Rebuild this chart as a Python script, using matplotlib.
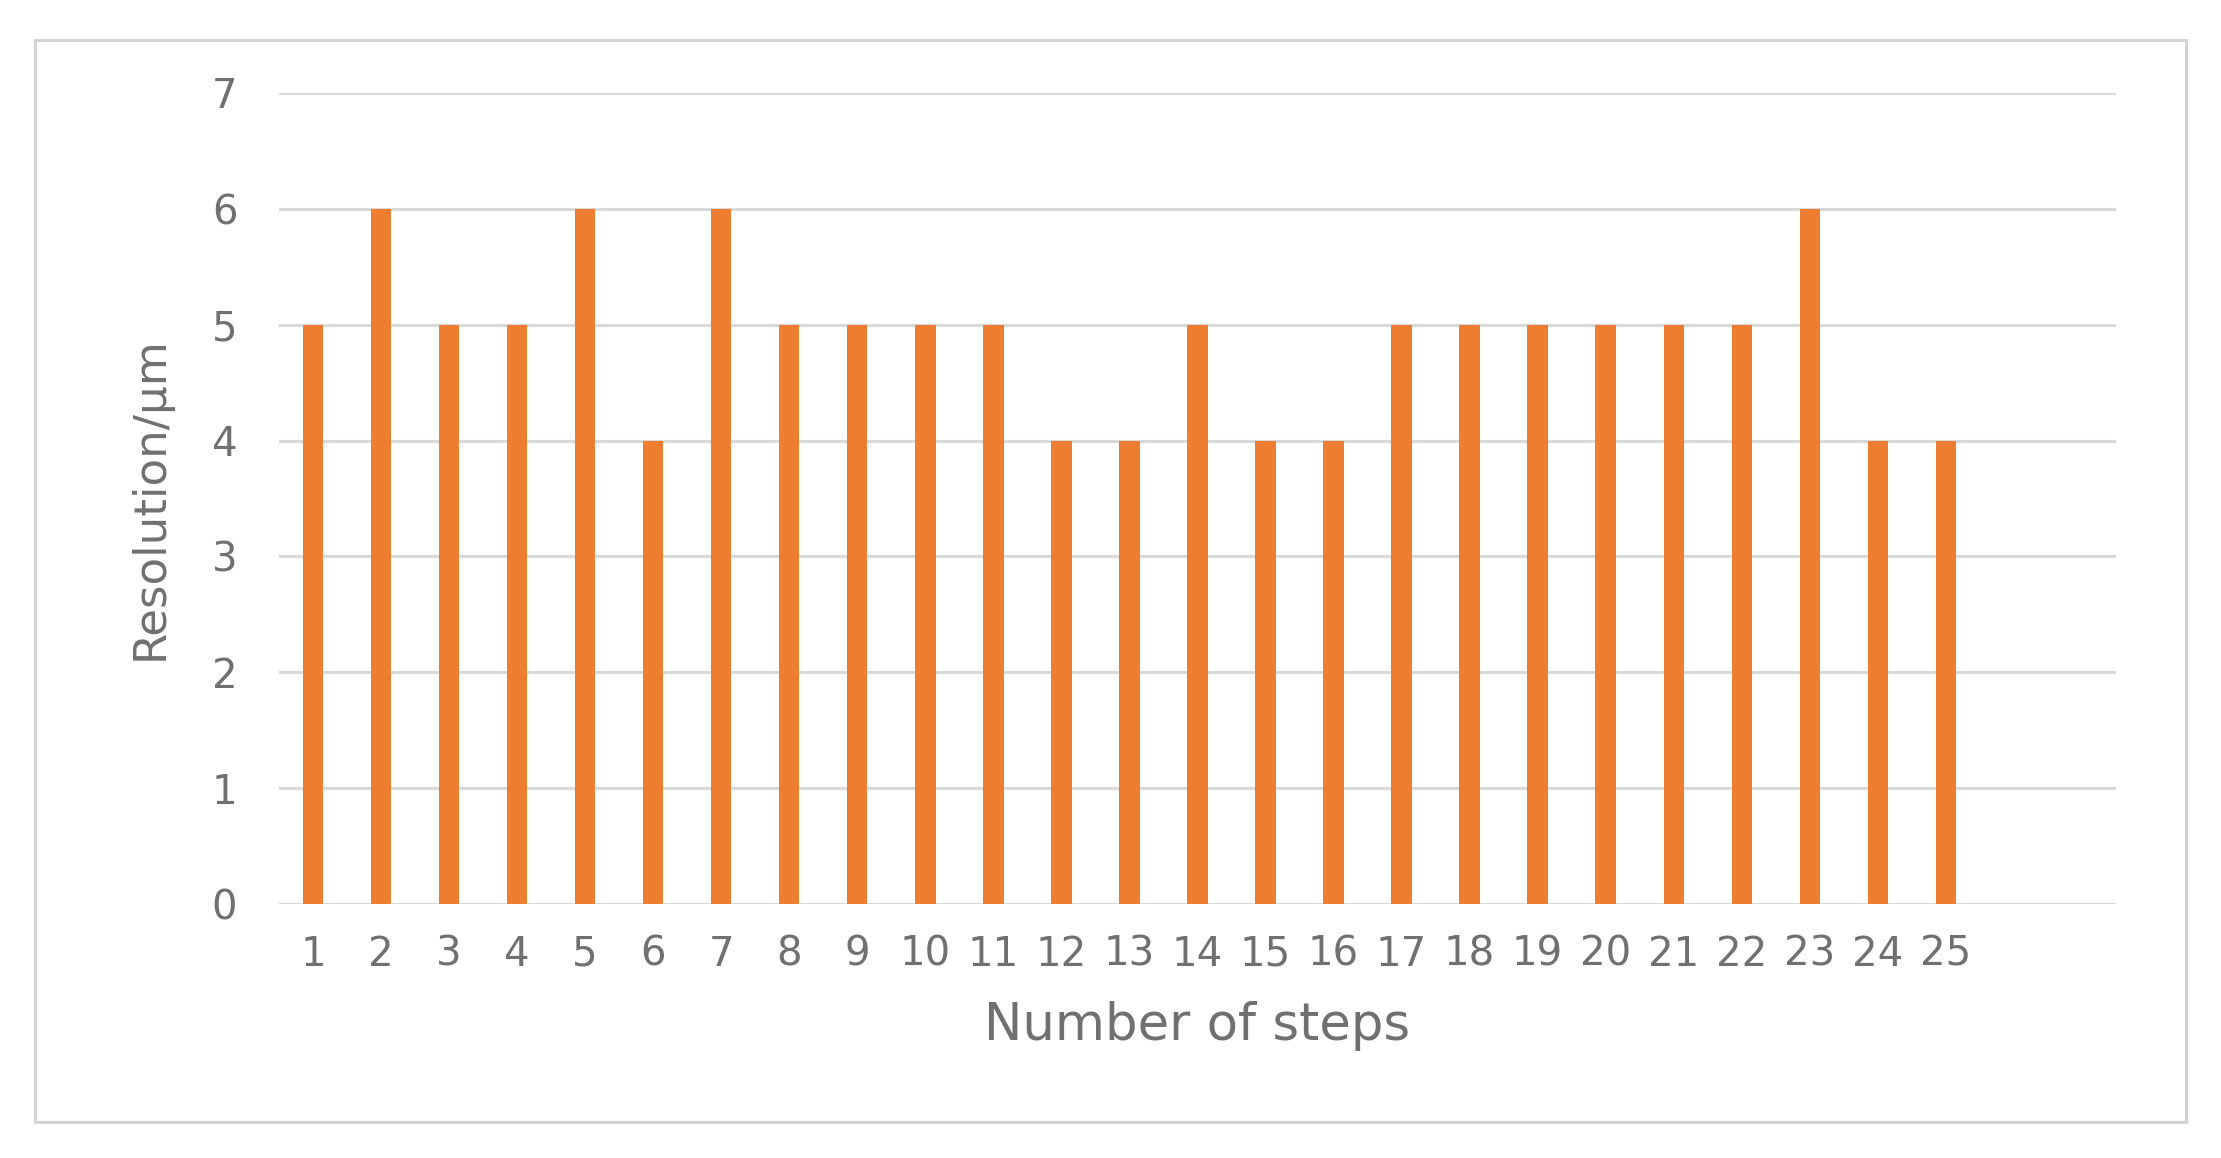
import matplotlib.pyplot as plt
from matplotlib.patches import Rectangle

steps = [str(i) for i in range(1, 26)]
resolution = [5, 6, 5, 5, 6, 4, 6, 5, 5, 5, 5, 4, 4, 5, 4, 4, 5, 5, 5, 5, 5, 5, 6, 4, 4]
# two empty slots at the right end of the category axis
extra_slots = ["", ""]

plt.rcParams['font.family'] = ['DejaVu Sans']
text_color = '#707070'

fig = plt.figure(figsize=(22.21, 11.58), dpi=100)
ax = fig.add_axes([0.1256, 0.2193, 0.9527 - 0.1256, 0.9197 - 0.2193])

labels = steps + extra_slots
x = list(range(len(labels)))
ax.bar(x[:len(resolution)], resolution, width=0.3, color='#ED7D31', zorder=3)

ax.set_xlim(-0.5, len(labels) - 0.5)
ax.set_ylim(0, 7)
ax.set_yticks(range(0, 8))
ax.set_xticks(x)
ax.set_xticklabels(labels)

ax.grid(axis='y', color='#d9d9d9', linewidth=2.2, zorder=0)
ax.set_axisbelow(True)
for s in ax.spines.values():
    s.set_visible(False)
ax.tick_params(axis='both', length=0, labelsize=29, labelcolor=text_color)
ax.tick_params(axis='x', pad=22)
ax.tick_params(axis='y', pad=30)

ax.set_xlabel('Number of steps', fontsize=37, color=text_color, labelpad=19)
ax.set_ylabel('Resolution/μm', fontsize=32.5, color=text_color, labelpad=29)

fig.patches.append(Rectangle((0.0158, 0.0311), 0.9685, 0.9344, transform=fig.transFigure,
                             fill=False, edgecolor='#d4d4d4', linewidth=2.2))

fig.savefig('out.png', dpi=100)
